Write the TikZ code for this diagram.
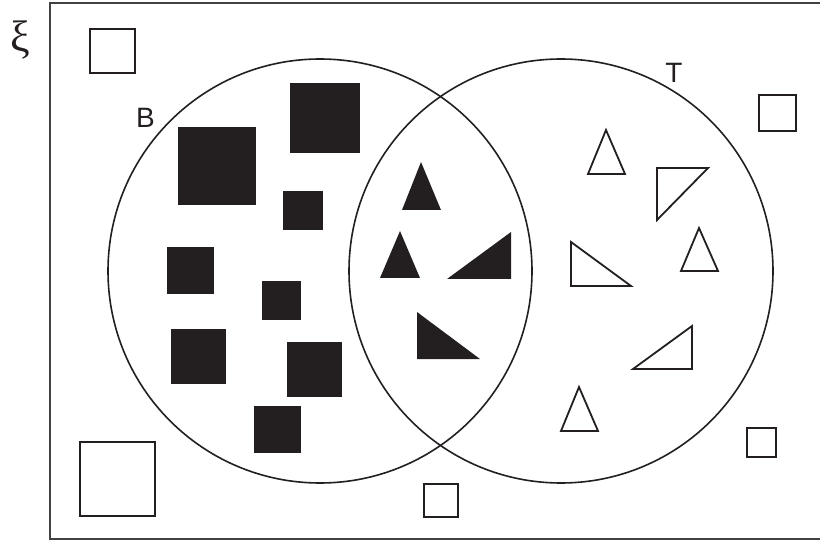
\documentclass[tikz,border=0pt]{standalone}
\usepackage{fontspec}
\setmainfont{Liberation Sans}
\newfontfamily\greekfont{Liberation Serif}
\usetikzlibrary{positioning}
\definecolor{ink}{HTML}{231F20}

\begin{document}
\begin{tikzpicture}[
		x=1pt, y=-1pt,
		setline/.style={draw=ink, line width=1.6pt},
		solid shape/.style={fill=ink},
		open shape/.style={draw=ink, line width=1.8pt, fill=white},
		setlabel/.style={text=ink, inner sep=0pt, font=\fontsize{28}{30}\selectfont}
		]
		
		\useasboundingbox (0,0) rectangle (820,540);
		
		% universal set
		\draw[draw=ink!85, line width=2pt] (820,3) -- (50,3) -- (50,539) -- (820,539);
		\node[text=ink, inner sep=0pt, font=\greekfont\fontsize{44}{46}\selectfont] (xi) at (20,40.5) {ξ};
		
		% sets B and T
		\draw[setline] (320,271) circle[radius=212pt];
		\draw[setline] (561,271) circle[radius=212pt];
		\node[setlabel] (labB) at (145.5,117.5) {B};
		\node[setlabel] (labT) at (674,73) {T};
		
		% black squares
		\fill[solid shape] (178,127) rectangle (256,205);
		\fill[solid shape] (290,83) rectangle (360,153);
		\fill[solid shape] (283,191) rectangle (323,230);
		\fill[solid shape] (167,247) rectangle (214,294);
		\fill[solid shape] (262,281) rectangle (301,320);
		\fill[solid shape] (171,329) rectangle (226,384);
		\fill[solid shape] (287,342) rectangle (342,397);
		\fill[solid shape] (254,406) rectangle (301,453);
		
		% black triangles
		\fill[solid shape] (421,162) -- (402,210) -- (441,210) -- cycle;
		\fill[solid shape] (400,231) -- (380,278) -- (420,278) -- cycle;
		\fill[solid shape] (447,279) -- (511,279) -- (511,232) -- cycle;
		\fill[solid shape] (417,312) -- (417,359) -- (480,359) -- cycle;
		
		% white triangles
		\draw[open shape] (606,130) -- (588,174) -- (625,174) -- cycle;
		\draw[open shape] (657,168) -- (708,168) -- (657,220) -- cycle;
		\draw[open shape] (699,228) -- (681,271) -- (718,271) -- cycle;
		\draw[open shape] (571,242) -- (571,286) -- (631,286) -- cycle;
		\draw[open shape] (692,326) -- (692,369) -- (633,369) -- cycle;
		\draw[open shape] (579,387) -- (561,431) -- (598,431) -- cycle;
		
		% white squares
		\draw[open shape] (90,29) rectangle (135,73);
		\draw[open shape] (80,442) rectangle (155,516);
		\draw[open shape] (424,484) rectangle (458,517);
		\draw[open shape] (747,428) rectangle (776,457);
		\draw[open shape] (759,95) rectangle (796,131);
		
	\end{tikzpicture}
\end{document}
